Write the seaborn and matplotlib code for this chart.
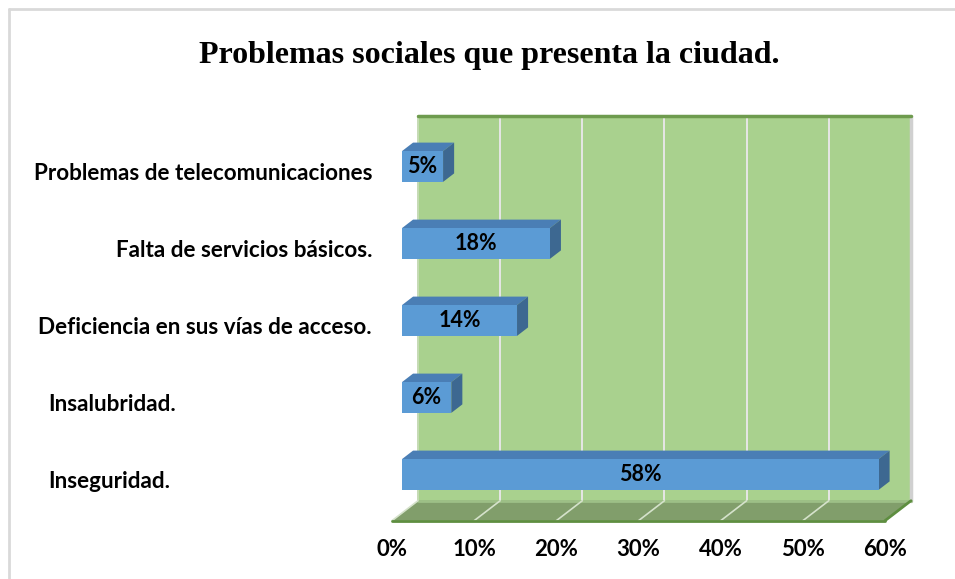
import matplotlib
matplotlib.use("Agg")
import matplotlib.pyplot as plt
import matplotlib.transforms as mtransforms
from matplotlib.patches import Polygon
from matplotlib.lines import Line2D
import seaborn as sns
import pandas as pd

# ---------------- data ----------------
categories = [
    "Problemas de telecomunicaciones",
    "Falta de servicios básicos.",
    "Deficiencia en sus vías de acceso.",
    "Insalubridad.",
    "Inseguridad.",
]
values = [5, 18, 14, 6, 58]
xtick_values = [0, 10, 20, 30, 40, 50, 60]
xtick_labels = ["0%", "10%", "20%", "30%", "40%", "50%", "60%"]
title = "Problemas sociales que presenta la ciudad."

# ---------------- style ----------------
sns.set_theme(style="white")
plt.rcParams["font.family"] = ["Lato", "DejaVu Sans"]

W, H = 955, 579
fig = plt.figure(figsize=(W / 100, H / 100), dpi=100)
fig.patch.set_facecolor("white")

# axes = front plane of the bars
ax_l, ax_r, ax_t, ax_b = 402, 895, 128, 513
ax = fig.add_axes([ax_l / W, (H - ax_b) / H, (ax_r - ax_l) / W, (ax_b - ax_t) / H])
ax.set_facecolor("none")

df = pd.DataFrame({"problema": categories, "porcentaje": values})
sns.barplot(data=df, x="porcentaje", y="problema", orient="h", color="#5B9BD5",
            saturation=1, width=0.4, edgecolor="none", linewidth=0, ax=ax)
bars = list(ax.patches)

ax.set_xlim(0, 60)
ax.set_ylim(len(categories) - 0.5, -0.5)
for s in ax.spines.values():
    s.set_visible(False)
ax.set_xlabel("")
ax.set_ylabel("")

# ---------------- pseudo 3D geometry ----------------
px_x = (ax_r - ax_l) / 60.0
px_y = (ax_b - ax_t) / len(categories)
DX = 26 / px_x          # full depth, x in data units
DY = 20 / px_y          # full depth, upward in category units
D_BAR = 0.385           # depth of bar front faces
D_BACK = 0.81           # depth of bar back faces
y_top, y_bot = -0.5, len(categories) - 0.5


def shift(x, y, d):
    return (x + (d - D_BAR) * DX, y - (d - D_BAR) * DY)


# back wall
wall = Polygon([shift(0, y_top, 1), shift(60, y_top, 1), shift(60, y_bot, 1), shift(0, y_bot, 1)],
               closed=True, facecolor="#A9D18E", edgecolor="none", zorder=0.5, clip_on=False)
ax.add_patch(wall)
for v in xtick_values[1:-1]:
    ax.add_line(Line2D(*zip(shift(v, y_top, 1), shift(v, y_bot, 1)), color="#E6E6E6",
                       lw=1.4, zorder=0.6, clip_on=False))
ax.add_line(Line2D(*zip(shift(0, y_top, 1), shift(0, y_bot, 1)), color="#C5DBB4",
                   lw=1.4, zorder=0.6, clip_on=False))
ax.add_line(Line2D(*zip(shift(60, y_top, 1), shift(60, y_bot, 1)), color="#D0D0D0",
                   lw=2.5, zorder=0.6, clip_on=False))
ax.add_line(Line2D(*zip(shift(0, y_top, 1), shift(60, y_top, 1)), color="#6E9B4E",
                   lw=2.5, zorder=0.65, clip_on=False))

# floor
floor = Polygon([shift(0, y_bot, 0), shift(60, y_bot, 0), shift(60, y_bot, 1), shift(0, y_bot, 1)],
                closed=True, facecolor="#819E6B", edgecolor="none", zorder=0.7, clip_on=False)
ax.add_patch(floor)
ax.add_line(Line2D(*zip(shift(0, y_bot, 1), shift(60, y_bot, 1)), color="#9DBF86",
                   lw=2, zorder=0.75, clip_on=False))
for v in xtick_values[:-1]:
    ax.add_line(Line2D(*zip(shift(v, y_bot, 1), shift(v, y_bot, 0)), color="#D5E2CB",
                       lw=1.2, zorder=0.8, clip_on=False))
ax.add_line(Line2D(*zip(shift(0, y_bot, 0), shift(60, y_bot, 0)), color="#5E8E40",
                   lw=2, zorder=0.85, clip_on=False))
ax.add_line(Line2D(*zip(shift(60, y_bot, 0), shift(60, y_bot, 1)), color="#5E8E40",
                   lw=2, zorder=0.85, clip_on=False))

# bar top and side faces
for p in bars:
    x0, y0, w, h = p.get_x(), p.get_y(), p.get_width(), p.get_height()
    yt = min(y0, y0 + h)
    yb = max(y0, y0 + h)
    top = Polygon([shift(x0, yt, D_BAR), shift(x0 + w, yt, D_BAR),
                   shift(x0 + w, yt, D_BACK), shift(x0, yt, D_BACK)],
                  closed=True, facecolor="#4A7EB5", edgecolor="none", zorder=2.9, clip_on=False)
    side = Polygon([shift(x0 + w, yt, D_BAR), shift(x0 + w, yb, D_BAR),
                    shift(x0 + w, yb, D_BACK), shift(x0 + w, yt, D_BACK)],
                   closed=True, facecolor="#3D6891", edgecolor="none", zorder=2.9, clip_on=False)
    ax.add_patch(top)
    ax.add_patch(side)
    p.set_zorder(3)

ax.bar_label(ax.containers[0], labels=[f"{v}%" for v in values], label_type="center",
             fontweight="bold", fontsize=15.5, color="black", zorder=4)

# ticks
ax.set_xticks(xtick_values, xtick_labels)
ax.set_yticks(range(len(categories)), categories)
ax.tick_params(axis="x", length=0, pad=19, labelsize=16, labelcolor="black")
ax.tick_params(axis="y", length=0, pad=21.6, labelsize=16.2, labelcolor="black")
for lab in ax.get_xticklabels():
    lab.set_fontweight("bold")
    lab.set_transform(lab.get_transform() + mtransforms.ScaledTranslation(-0.10, 0, fig.dpi_scale_trans))
for i, lab in enumerate(ax.get_yticklabels()):
    lab.set_fontweight("bold")
    off = mtransforms.ScaledTranslation(0, -0.05, fig.dpi_scale_trans)
    if i >= 3:
        lab.set_horizontalalignment("left")
        off = mtransforms.ScaledTranslation(-3.24, -0.05, fig.dpi_scale_trans)
    lab.set_transform(lab.get_transform() + off)

# title
fig.text(489 / W, 1 - 55 / H, title, ha="center", va="center",
         family=["Liberation Serif", "DejaVu Serif"], fontweight="bold", fontsize=23, color="black")

# outer frame (top and left visible)
fig.add_artist(Line2D([9 / W, 1], [1 - 9 / H, 1 - 9 / H], transform=fig.transFigure,
                      color="#D9D9D9", lw=2))
fig.add_artist(Line2D([9 / W, 9 / W], [0, 1 - 9 / H], transform=fig.transFigure,
                      color="#D9D9D9", lw=2))

fig.savefig("out.png", dpi=100)
